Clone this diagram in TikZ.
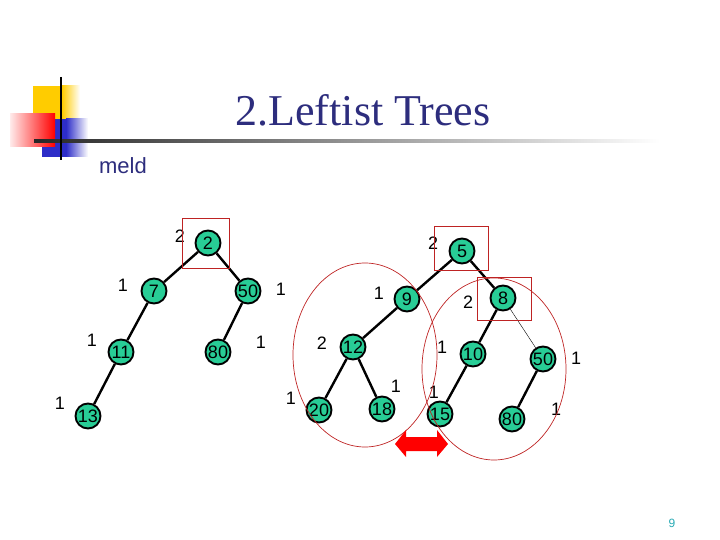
\documentclass[tikz,border=0pt]{standalone}
\usepackage{fontspec}
\setmainfont{Liberation Serif}
\setsansfont{Liberation Sans}
\usetikzlibrary{positioning}
\definecolor{titleblue}{RGB}{45,45,125}
\definecolor{keygreen}{RGB}{40,205,150}
\definecolor{hired}{RGB}{190,35,35}
\definecolor{logoyellow}{RGB}{255,204,0}
\definecolor{logoblue}{RGB}{45,45,200}
\definecolor{pageteal}{RGB}{40,170,180}

\begin{document}
\begin{tikzpicture}[x=1pt,y=-1pt]
  \tikzstyle{key}=[circle,draw,line width=1.9pt,fill=keygreen,minimum size=25pt,inner sep=0pt,font=\sffamily\fontsize{18}{18}\selectfont]
  \tikzstyle{rank}=[font=\sffamily\fontsize{18}{18}\selectfont]
  \tikzstyle{edge}=[line width=2.4pt]
  \tikzstyle{hilite}=[draw=hired,line width=0.7pt]
  \useasboundingbox (0,0) rectangle (720,540);

  % logo
  \fill[logoyellow] (33,86) rectangle (62,119);
  \shade[left color=logoyellow,right color=white] (62,86) rectangle (80,119);
  \fill[logoblue] (42,119) rectangle (66,157);
  \shade[left color=logoblue,right color=white] (66,119) rectangle (88,157);
  \shade[left color=red!8,right color=red] (10,114) rectangle (55,147);
  \shade[left color=black!85,right color=white] (34,139.5) rectangle (660,142.5);
  \draw[line width=2.5pt] (61,77) -- (61,160);

  \node[font=\fontsize{44}{44}\selectfont,text=titleblue] (title) at (363,110) {2.Leftist Trees};
  \node[font=\sffamily\fontsize{22}{22}\selectfont,text=titleblue] (meld) at (123,166) {meld};

  % first tree
  \node[key] (a2) at (208,243) {2};
  \node[key] (a7) at (154,291) {7};
  \node[key] (a50) at (248,291) {50};
  \node[key] (a11) at (121,352) {11};
  \node[key] (a80) at (218,352) {80};
  \node[key] (a13) at (88,416) {13};
  \draw[edge] (a2) -- (a7);
  \draw[edge] (a2) -- (a50);
  \draw[edge] (a7) -- (a11);
  \draw[edge] (a11) -- (a13);
  \draw[edge] (a50) -- (a80);
  \node[rank] (sa2) at (180,236) {2};
  \node[rank] (sa7) at (123,285) {1};
  \node[rank] (sa50) at (281,289) {1};
  \node[rank] (sa11) at (92,340) {1};
  \node[rank] (sa80) at (261,342) {1};
  \node[rank] (sa13) at (60,403) {1};
  \draw[hilite] (182,218) rectangle (229,268);

  % second tree
  \node[key] (b5) at (462,251) {5};
  \node[key] (b9) at (407,299) {9};
  \node[key] (b8) at (503,298) {8};
  \node[key] (b12) at (353,347) {12};
  \node[key] (b10) at (473,354) {10};
  \node[key] (b50) at (543,359) {50};
  \node[key] (b20) at (319,410) {20};
  \node[key] (b18) at (382,409) {18};
  \node[key] (b15) at (440,414) {15};
  \node[key] (b80) at (512,419) {80};
  \draw[edge] (b5) -- (b9);
  \draw[edge] (b5) -- (b8);
  \draw[edge] (b9) -- (b12);
  \draw[edge] (b12) -- (b20);
  \draw[edge] (b12) -- (b18);
  \draw[edge] (b8) -- (b10);
  \draw[thin] (b8) -- (b50);
  \draw[edge] (b10) -- (b15);
  \draw[edge] (b50) -- (b80);
  \node[rank] (sb5) at (433,243) {2};
  \node[rank] (sb9) at (379,293) {1};
  \node[rank] (sb8) at (468,302) {2};
  \node[rank] (sb12) at (322,343) {2};
  \node[rank] (sb10) at (442,347) {1};
  \node[rank] (sb50) at (576,358) {1};
  \node[rank] (sb20) at (291,398) {1};
  \node[rank] (sb18) at (396,386) {1};
  \node[rank] (sb15) at (434,392) {1};
  \node[rank] (sb80) at (556,409) {1};
  \draw[hilite] (434,226) rectangle (488,270);
  \draw[hilite] (477,277) rectangle (531,320);
  \draw[hilite] (365,355) ellipse [x radius=72pt,y radius=92pt];
  \draw[hilite] (494,369) ellipse [x radius=72pt,y radius=91pt];

  % swap arrow
  \fill[red] (395,444) -- (406,430) -- (406,437) -- (437,437) -- (437,430)
    -- (448,444) -- (437,457) -- (437,451) -- (406,451) -- (406,457) -- cycle;

  \node[font=\sffamily\fontsize{12}{12}\selectfont,text=pageteal] (page) at (672,523) {9};
\end{tikzpicture}
\end{document}
